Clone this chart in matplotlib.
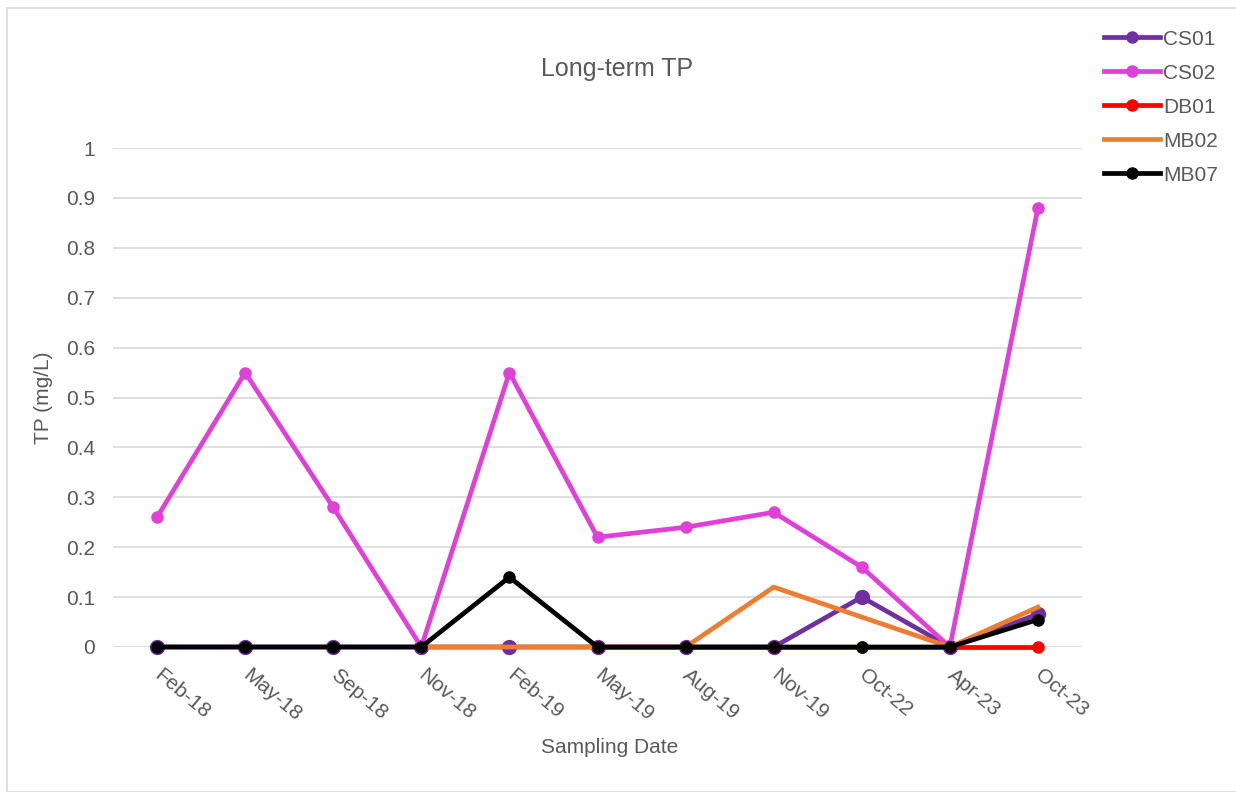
import numpy as np
import matplotlib.pyplot as plt
import matplotlib.transforms as mtransforms
from matplotlib.patches import Rectangle

plt.rcParams['font.family'] = ['Liberation Sans', 'DejaVu Sans']

# Data
dates = ['Feb-18', 'May-18', 'Sep-18', 'Nov-18', 'Feb-19', 'May-19',
         'Aug-19', 'Nov-19', 'Oct-22', 'Apr-23', 'Oct-23']
cs01 = [0, 0, 0, 0, 0, 0, 0, 0, 0.10, 0, 0.066]
cs02 = [0.26, 0.55, 0.28, 0, 0.55, 0.22, 0.24, 0.27, 0.16, 0, 0.88]
db01 = [None, None, None, None, None, 0, 0, 0, 0, 0, 0]
mb02 = [None, None, None, 0, 0, 0, 0, 0.12, 0.06, 0, 0.08]
mb07 = [0, 0, 0, 0, 0.14, 0, 0, 0, 0, 0, 0.055]

def arr(v):
    return np.array([np.nan if a is None else a for a in v], dtype=float)

x = np.arange(len(dates))
grey = '#595959'

fig = plt.figure(figsize=(12.36, 7.92), dpi=100)
ax = fig.add_axes([113 / 1236, 1 - 647 / 792, (1082 - 113) / 1236, (647 - 148) / 792])

lw = 3.4
ax.plot(x, arr(cs01), color='#7030a0', lw=lw, marker='o', ms=10, label='CS01', clip_on=False)
ax.plot(x, arr(cs02), color='#e040d8', lw=lw, marker='o', ms=8, label='CS02', clip_on=False)
ax.plot(x, arr(db01), color='#ff0000', lw=lw, marker='o', ms=8, label='DB01', clip_on=False)
ax.plot(x, arr(mb02), color='#ed7d31', lw=lw, label='MB02', clip_on=False)
ax.plot(x, arr(mb07), color='#000000', lw=lw, marker='o', ms=8, label='MB07', clip_on=False)

ax.set_xlim(-0.5, len(dates) - 0.5)
ax.set_ylim(0, 1)
ax.set_yticks(np.arange(0, 1.01, 0.1))
ax.set_yticklabels(['0', '0.1', '0.2', '0.3', '0.4', '0.5', '0.6', '0.7', '0.8', '0.9', '1'])
ax.set_xticks(x)
ax.set_xticklabels(dates, rotation=-40, ha='left', va='top', rotation_mode='anchor')
ax.tick_params(axis='both', length=0, colors=grey, labelsize=15)
ax.tick_params(axis='x', pad=13)
ax.tick_params(axis='y', pad=13)
ax.grid(axis='y', color='#d9d9d9', lw=1.2)
ax.set_axisbelow(True)
for s in ax.spines.values():
    s.set_visible(False)

# nudge rotated date labels right
shift = mtransforms.ScaledTranslation(6 / 100, 0, fig.dpi_scale_trans)
for lab in ax.get_xticklabels():
    lab.set_transform(lab.get_transform() + shift)

ax.set_title('Long-term TP', color=grey, fontsize=18, pad=52, x=0.52)
ax.set_xlabel('Sampling Date', color=grey, fontsize=15, labelpad=10, x=0.513)
ax.set_ylabel('TP (mg/L)', color=grey, fontsize=15, labelpad=9)

leg = fig.legend(loc='upper left', bbox_to_anchor=(1087 / 1236, 1 - 13 / 792),
                 frameon=False, fontsize=15, handlelength=2.7, handletextpad=0.15,
                 labelspacing=0.72, labelcolor=grey, borderpad=0.3)
for h in leg.legend_handles:
    h.set_markersize(8)

fig.patches.append(Rectangle((7 / 1236, 0), 1.0, 1 - 8 / 792, transform=fig.transFigure,
                             fill=False, edgecolor='#d9d9d9', lw=1.2))

fig.savefig('out.png', dpi=100)
